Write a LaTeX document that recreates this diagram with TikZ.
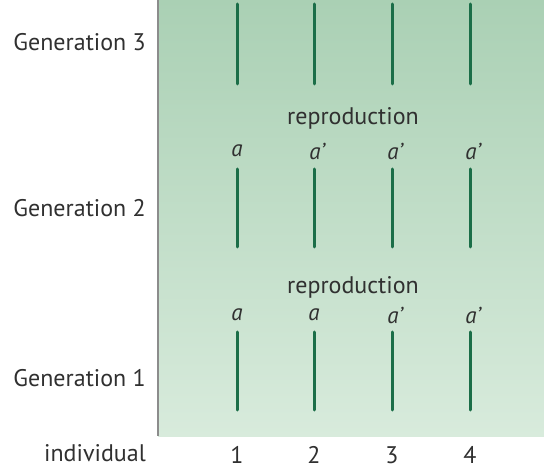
\documentclass[tikz,border=0pt]{standalone}
\usepackage{fontspec}
\setmainfont{PT Sans}
\definecolor{txt}{HTML}{303030}
\definecolor{gtop}{HTML}{AAD0B4}
\definecolor{gbot}{HTML}{D8EBDC}
\definecolor{chrom}{HTML}{1B6E48}
\definecolor{edge}{HTML}{8C8C8C}
\begin{document}
\begin{tikzpicture}[x=1pt,y=-1pt,
  lbl/.style={text=txt,font=\fontsize{24}{26}\selectfont,inner sep=0pt},
  allele/.style={text=txt,font=\fontsize{23}{25}\selectfont\itshape,inner sep=0pt},
  chr/.style={draw=chrom,line width=3pt,line cap=round}]
\useasboundingbox (0,0) rectangle (544,473);
\shade[top color=gtop,bottom color=gbot] (158,0) rectangle (544,436);
\draw[edge,line width=2pt] (158,0) -- (158,436);
% row labels
\node[lbl,anchor=east] (g3) at (146,42) {Generation 3};
\node[lbl,anchor=east] (g2) at (146,208) {Generation 2};
\node[lbl,anchor=east] (g1) at (146,378) {Generation 1};
\node[lbl,anchor=east] (ind) at (146,453) {individual};
% column numbers
\foreach \i/\x in {1/237,2/314,3/392,4/470}{
  \node[lbl] (n\i) at (\x,455) {\i};
  \draw[chr] (\x,4) -- (\x,84);
  \draw[chr] (\x,169) -- (\x,247);
  \draw[chr] (\x,332) -- (\x,410);
}
\node[lbl] (r2) at (353,118) {reproduction};
\node[lbl] (r1) at (353,287) {reproduction};
% alleles gen 2
\node[allele] (a21) at (237,151) {a};
\node[allele] (a22) at (317,151) {a’};
\node[allele] (a23) at (395,151) {a’};
\node[allele] (a24) at (473,151) {a’};
% alleles gen 1
\node[allele] (a11) at (237,315) {a};
\node[allele] (a12) at (314,315) {a};
\node[allele] (a13) at (395,315) {a’};
\node[allele] (a14) at (473,315) {a’};
\end{tikzpicture}
\end{document}
